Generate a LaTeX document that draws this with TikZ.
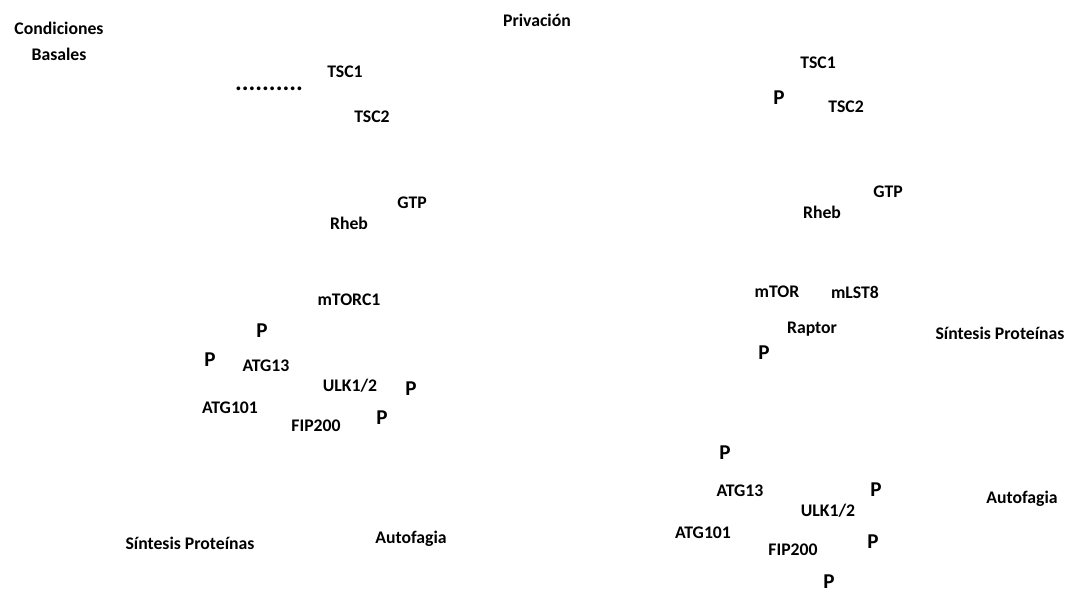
\documentclass[tikz,border=0pt]{standalone}
\usepackage{fontspec}
\setmainfont{Carlito}[BoldFont={Carlito Bold}]
\usepackage{tikz}
\tikzset{lbl/.style={font=\bfseries\fontsize{12.6}{18.5}\selectfont,inner sep=0pt},
 pho/.style={font=\bfseries\fontsize{15}{16}\selectfont,inner sep=0pt}}

\begin{document}
\begin{tikzpicture}[line cap=round,line join=round,x=0.025cm,y=-0.025cm, scale=1]
\useasboundingbox (0,0) rectangle (1071,593);
% basal conditions
\node[lbl,align=center] (cond) at (59,41) {Condiciones\\Basales};
\node[lbl] (priv) at (537,20) {Privación};
\node[lbl,font=\bfseries\fontsize{18}{20}\selectfont] (dots) at (269,89) {..........};
\node[lbl] (tscA) at (345,72) {TSC1};
\node[lbl] (tscB) at (372,117) {TSC2};
\node[lbl] (gtpA) at (412,203) {GTP};
\node[lbl] (rhebA) at (349,223) {Rheb};
\node[lbl] (mtorc) at (349,300) {mTORC1};
\node[pho] (pA) at (262,331) {P};
\node[pho] (pB) at (210,360) {P};
\node[lbl] (atgA) at (266,366) {ATG13};
\node[lbl] (ulkA) at (350,386) {ULK1/2};
\node[pho] (pC) at (411,389) {P};
\node[lbl] (atgB) at (230,408) {ATG101};
\node[lbl] (fipA) at (316,426) {FIP200};
\node[pho] (pD) at (382,418) {P};
\node[lbl] (sintA) at (190,543) {Síntesis Proteínas};
\node[lbl] (autoA) at (411,539) {Autofagia};
% deprivation
\node[lbl] (tscC) at (818,63) {TSC1};
\node[pho] (pE) at (779,98) {P};
\node[lbl] (tscD) at (846,107) {TSC2};
\node[lbl] (gtpB) at (888,192) {GTP};
\node[lbl] (rhebB) at (822,212) {Rheb};
\node[lbl] (mtor) at (777,292) {mTOR};
\node[lbl] (mlst) at (855,292) {mLST8};
\node[lbl] (rapt) at (812,329) {Raptor};
\node[pho] (pF) at (764,353) {P};
\node[lbl] (sintB) at (1000,333) {Síntesis Proteínas};
\node[pho] (pG) at (725,453) {P};
\node[lbl] (atgC) at (740,491) {ATG13};
\node[pho] (pH) at (876,490) {P};
\node[lbl] (ulkB) at (828,511) {ULK1/2};
\node[lbl] (autoB) at (1022,499) {Autofagia};
\node[lbl] (atgD) at (703,533) {ATG101};
\node[lbl] (fipB) at (793,550) {FIP200};
\node[pho] (pI) at (873,542) {P};
\node[pho] (pJ) at (829,582) {P};
\end{tikzpicture}
\end{document}
